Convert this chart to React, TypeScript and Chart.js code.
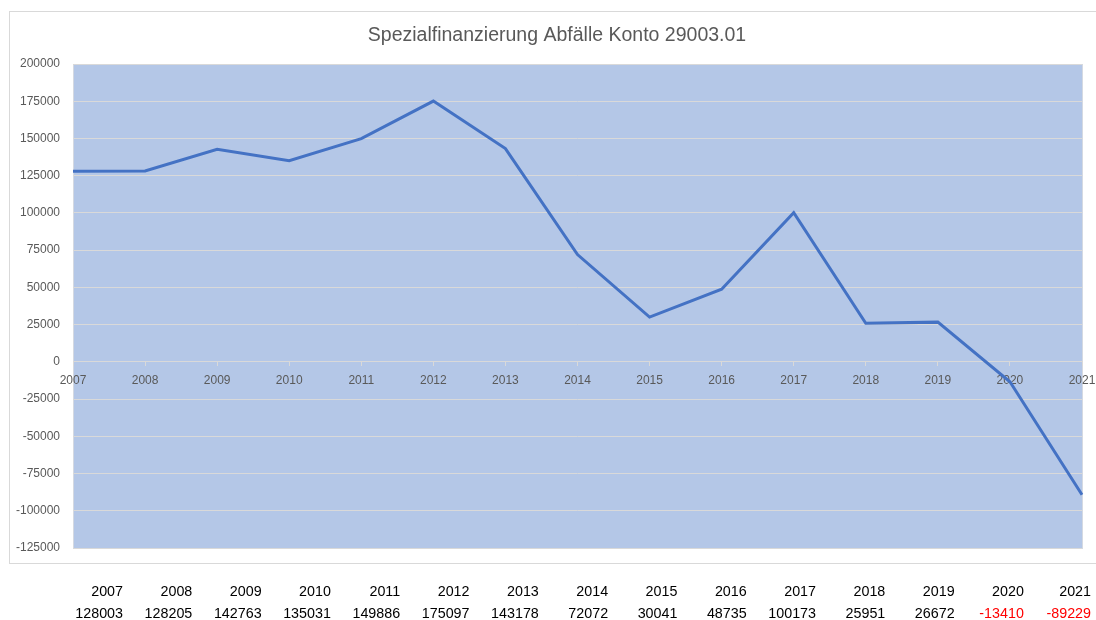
import React, { useEffect, useRef } from "react";
import { Chart, registerables } from "chart.js";

Chart.register(...registerables);

const years: string[] = ["2007", "2008", "2009", "2010", "2011", "2012", "2013", "2014", "2015", "2016", "2017", "2018", "2019", "2020", "2021"];
const balances: number[] = [128003, 128205, 142763, 135031, 149886, 175097, 143178, 72072, 30041, 48735, 100173, 25951, 26672, -13410, -89229];
const titleText = "Spezialfinanzierung Abfälle Konto 29003.01";
const yMin = -125000;
const yMax = 200000;
const yStep = 25000;

const FONT = "'Liberation Sans', Arial, sans-serif";

const backgroundPlugin = {
  id: "plotBackground",
  beforeDraw(chart: any) {
    const { ctx, chartArea } = chart;
    ctx.save();
    ctx.strokeStyle = "#d9d9d9";
    ctx.lineWidth = 1;
    ctx.strokeRect(9.5, 11.5, 1200, 552);
    ctx.fillStyle = "#b4c7e7";
    ctx.fillRect(chartArea.left, chartArea.top, chartArea.right - chartArea.left, chartArea.bottom - chartArea.top);
    ctx.strokeStyle = "#d4d9e2";
    ctx.strokeRect(chartArea.left + 0.5, chartArea.top + 0.5, chartArea.right - chartArea.left, chartArea.bottom - chartArea.top);
    ctx.restore();
  },
  afterDraw(chart: any) {
    const { ctx } = chart;
    ctx.save();
    ctx.fillStyle = "#595959";
    ctx.font = "19.5px " + FONT;
    ctx.textAlign = "center";
    ctx.textBaseline = "middle";
    ctx.fillText(titleText, 557, 36);
    ctx.restore();
  },
};

export default function App() {
  const canvasRef = useRef<HTMLCanvasElement | null>(null);

  useEffect(() => {
    if (!canvasRef.current) return;
    const chart = new Chart(canvasRef.current, {
      type: "line",
      data: {
        labels: years,
        datasets: [
          {
            label: "Konto 29003.01",
            data: balances,
            borderColor: "#4472c4",
            borderWidth: 3,
            pointRadius: 0,
            tension: 0,
            fill: false,
          },
        ],
      },
      options: {
        animation: false,
        responsive: false,
        maintainAspectRatio: false,
        layout: { padding: { left: 0, right: 14, top: 64, bottom: 72 } },
        plugins: {
          legend: { display: false },
          tooltip: { enabled: false },
          title: { display: false },
        },
        scales: {
          x: {
            type: "category",
            position: { y: 0 } as any,
            offset: false,
            afterFit(scale: any) {
              scale.paddingLeft = 0;
              scale.paddingRight = 0;
            },
            grid: {
              display: true,
              drawOnChartArea: false,
              drawTicks: true,
              tickLength: 4,
              color: "#d9d9d9",
            },
            border: { display: true, color: "#d9d9d9", width: 1 },
            ticks: {
              color: "#595959",
              font: { family: FONT, size: 12 },
              autoSkip: false,
              maxRotation: 0,
              minRotation: 0,
              padding: 8,
            },
          },
          y: {
            min: yMin,
            max: yMax,
            afterFit(scale: any) {
              scale.width = 73;
              scale.paddingTop = 0;
              scale.paddingBottom = 0;
            },
            grid: { color: "#d9d9d9", drawTicks: false, lineWidth: 1 },
            border: { display: false },
            ticks: {
              stepSize: yStep,
              color: "#595959",
              font: { family: FONT, size: 12 },
              padding: 13,
              callback: (v: any) => String(v),
            },
          },
        },
      },
      plugins: [backgroundPlugin],
    });
    return () => chart.destroy();
  }, []);

  const colRight = (i: number) => Math.min(123 + i * 69.3, 1091);

  return (
    <div style={{ position: "absolute", left: 0, top: 0, width: 1096, height: 620, overflow: "hidden", background: "#fff" }}>
      <canvas ref={canvasRef} width={1096} height={620} style={{ position: "absolute", left: 0, top: 0, width: 1096, height: 620 }} />
      {years.map((y, i) => (
        <div
          key={"y" + y}
          style={{
            position: "absolute",
            left: colRight(i) - 68,
            width: 68,
            top: 582,
            textAlign: "right",
            fontFamily: FONT,
            fontSize: 14.3,
            lineHeight: "18px",
            color: "#000",
            whiteSpace: "nowrap",
          }}
        >
          {y}
        </div>
      ))}
      {balances.map((v, i) => (
        <div
          key={"v" + i}
          style={{
            position: "absolute",
            left: colRight(i) - 68,
            width: 68,
            top: 604,
            textAlign: "right",
            fontFamily: FONT,
            fontSize: 14.3,
            lineHeight: "18px",
            color: v < 0 ? "#ff0000" : "#000",
            whiteSpace: "nowrap",
          }}
        >
          {String(v)}
        </div>
      ))}
    </div>
  );
}
